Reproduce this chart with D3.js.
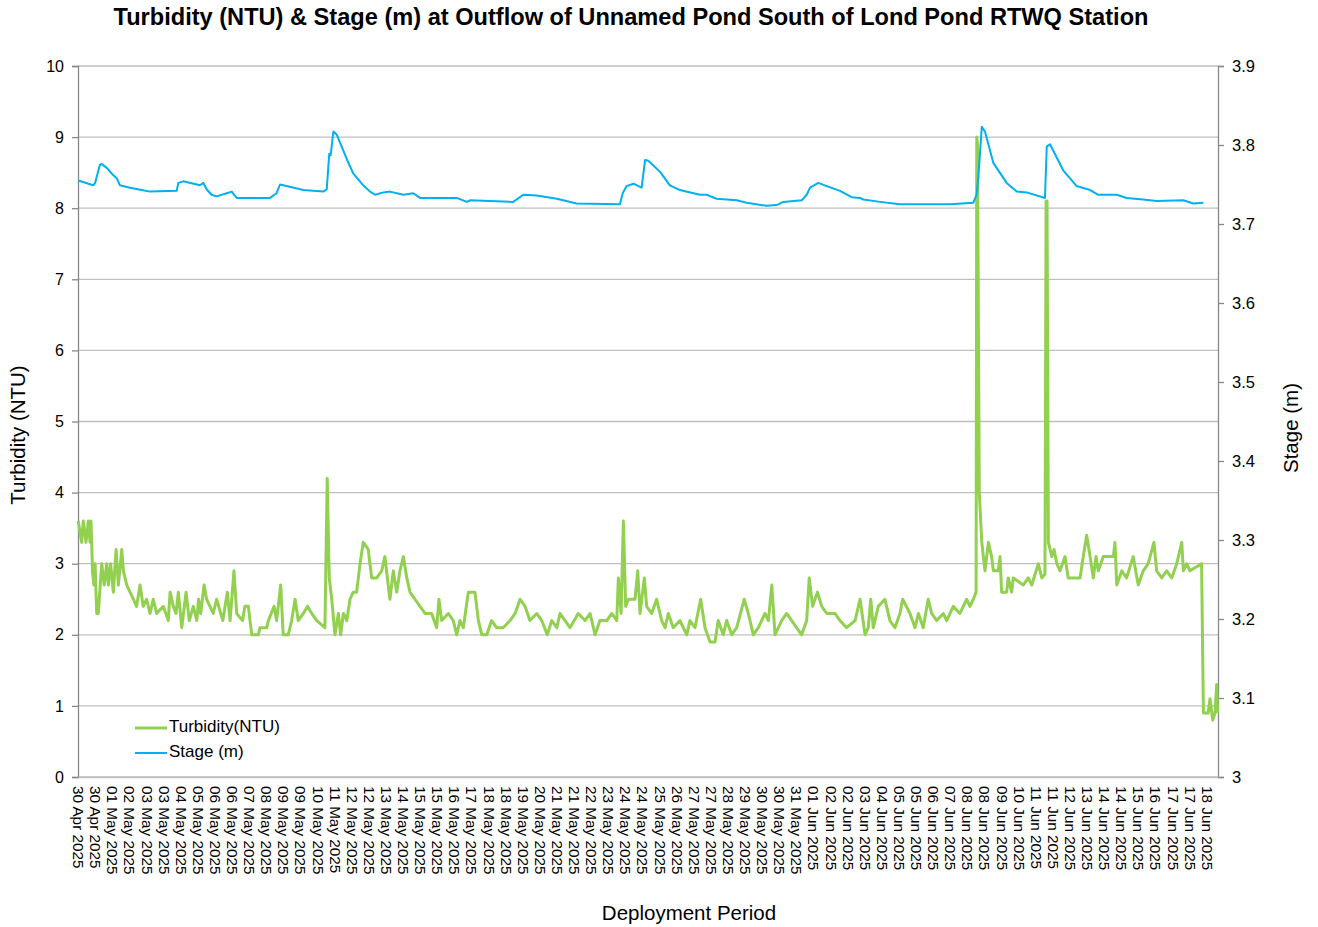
<!DOCTYPE html>
<html>
<head>
<meta charset="utf-8" />
<title>Turbidity & Stage - Unnamed Pond South of Lond Pond</title>
<script src="https://cdn.jsdelivr.net/npm/d3@7"></script>
<style>
  body { margin: 0; background: #fff; }
  text { font-family: Arial, "Liberation Sans", sans-serif; fill: #000; }
</style>
</head>
<body>
<svg id="chart" width="1318" height="927"></svg>
<script>
// deployment window (x axis runs from start to end)
const deployStart = new Date(2025, 3, 30);
const deployEnd = new Date(2025, 5, 19);

// category labels under the x axis, one every 18 hours
const xTickStepDays = 0.75;
const xTickLabels = [
  "30 Apr 2025","30 Apr 2025","01 May 2025","02 May 2025","03 May 2025","03 May 2025","04 May 2025","05 May 2025","06 May 2025","06 May 2025",
  "07 May 2025","08 May 2025","09 May 2025","09 May 2025","10 May 2025","11 May 2025","12 May 2025","12 May 2025","13 May 2025","14 May 2025",
  "15 May 2025","15 May 2025","16 May 2025","17 May 2025","18 May 2025","18 May 2025","19 May 2025","20 May 2025","21 May 2025","21 May 2025",
  "22 May 2025","23 May 2025","24 May 2025","24 May 2025","25 May 2025","26 May 2025","27 May 2025","27 May 2025","28 May 2025","29 May 2025",
  "30 May 2025","30 May 2025","31 May 2025","01 Jun 2025","02 Jun 2025","02 Jun 2025","03 Jun 2025","04 Jun 2025","05 Jun 2025","05 Jun 2025",
  "06 Jun 2025","07 Jun 2025","08 Jun 2025","08 Jun 2025","09 Jun 2025","10 Jun 2025","11 Jun 2025","11 Jun 2025","12 Jun 2025","13 Jun 2025",
  "14 Jun 2025","14 Jun 2025","15 Jun 2025","16 Jun 2025","17 Jun 2025","17 Jun 2025","18 Jun 2025"
];

const turbTicks = [0, 1, 2, 3, 4, 5, 6, 7, 8, 9, 10];
const stageTicks = [3, 3.1, 3.2, 3.3, 3.4, 3.5, 3.6, 3.7, 3.8, 3.9];

// Stage (m): days since deployment start, value
const stageDays = [
  0.01, 0.67, 0.75, 0.96, 1.04, 1.26, 1.54, 1.70, 1.84, 2.28,
  2.79, 3.16, 4.33, 4.40, 4.62, 5.35, 5.50, 5.64, 5.86, 6.08,
  6.52, 6.74, 6.96, 7.25, 8.42, 8.71, 8.86, 9.15, 9.88, 10.76,
  10.91, 11.02, 11.08, 11.20, 11.35, 11.79, 12.07, 12.51, 12.81, 13.03,
  13.39, 13.68, 14.27, 14.71, 15.00, 15.73, 16.61, 17.05, 17.19, 19.09,
  19.53, 20.12, 21.00, 21.87, 23.77, 23.89, 24.06, 24.36, 24.72, 24.87,
  25.01, 25.53, 25.96, 26.40, 27.28, 27.57, 28.01, 28.89, 29.33, 30.20,
  30.64, 30.93, 31.74, 31.96, 32.11, 32.47, 32.84, 33.42, 33.93, 34.30,
  34.44, 35.18, 36.05, 38.25, 39.27, 39.41, 39.49, 39.64, 39.78, 40.15,
  40.73, 41.17, 41.61, 42.41, 42.49, 42.63, 43.21, 43.80, 44.39, 44.75,
  45.56, 45.99, 46.72, 47.31, 48.48, 48.92, 49.36
];
const stageValues = [
  3.755, 3.749, 3.752, 3.775, 3.776, 3.771, 3.762, 3.758, 3.749, 3.746,
  3.743, 3.741, 3.742, 3.752, 3.754, 3.749, 3.752, 3.744, 3.737, 3.735,
  3.739, 3.741, 3.733, 3.733, 3.733, 3.739, 3.750, 3.748, 3.743, 3.741,
  3.744, 3.789, 3.787, 3.817, 3.813, 3.782, 3.764, 3.749, 3.741, 3.737,
  3.740, 3.741, 3.737, 3.739, 3.733, 3.733, 3.733, 3.728, 3.730, 3.728,
  3.737, 3.736, 3.732, 3.726, 3.725, 3.739, 3.748, 3.751, 3.746, 3.781,
  3.780, 3.766, 3.749, 3.743, 3.737, 3.737, 3.732, 3.730, 3.727, 3.723,
  3.724, 3.728, 3.730, 3.737, 3.746, 3.752, 3.748, 3.742, 3.734, 3.733,
  3.731, 3.728, 3.725, 3.725, 3.727, 3.737, 3.760, 3.823, 3.817, 3.777,
  3.752, 3.741, 3.740, 3.733, 3.798, 3.801, 3.768, 3.748, 3.743, 3.737,
  3.737, 3.733, 3.731, 3.729, 3.730, 3.726, 3.727
];

// Turbidity (NTU): days since deployment start, value
const turbDays = [
  0.01, 0.16, 0.23, 0.35, 0.45, 0.53, 0.57, 0.64, 0.70, 0.75,
  0.82, 0.89, 1.04, 1.15, 1.26, 1.33, 1.43, 1.55, 1.67, 1.77,
  1.92, 1.99, 2.14, 2.28, 2.43, 2.57, 2.72, 2.86, 3.01, 3.16,
  3.30, 3.45, 3.74, 3.96, 4.04, 4.18, 4.30, 4.40, 4.55, 4.74,
  4.88, 5.06, 5.21, 5.29, 5.38, 5.53, 5.64, 5.93, 6.08, 6.35,
  6.55, 6.67, 6.84, 6.96, 7.22, 7.32, 7.47, 7.62, 7.91, 7.98,
  8.28, 8.35, 8.60, 8.71, 8.89, 9.00, 9.22, 9.37, 9.52, 9.66,
  9.88, 10.07, 10.25, 10.47, 10.83, 10.93, 11.02, 11.13, 11.27, 11.42,
  11.52, 11.64, 11.79, 11.93, 12.07, 12.22, 12.37, 12.51, 12.73, 12.88,
  13.10, 13.32, 13.46, 13.68, 13.83, 13.98, 14.12, 14.27, 14.42, 14.56,
  14.78, 15.00, 15.22, 15.51, 15.73, 15.83, 15.95, 16.24, 16.46, 16.61,
  16.75, 16.90, 17.12, 17.41, 17.56, 17.71, 17.93, 18.14, 18.36, 18.65,
  18.95, 19.17, 19.39, 19.61, 19.82, 20.12, 20.34, 20.58, 20.78, 21.00,
  21.14, 21.36, 21.58, 21.94, 22.24, 22.46, 22.68, 22.89, 23.19, 23.41,
  23.63, 23.70, 23.82, 23.92, 24.02, 24.14, 24.43, 24.55, 24.65, 24.84,
  24.94, 25.16, 25.38, 25.60, 25.75, 25.89, 26.11, 26.40, 26.70, 26.84,
  27.06, 27.31, 27.50, 27.72, 27.94, 28.08, 28.30, 28.45, 28.67, 28.89,
  29.22, 29.40, 29.62, 29.84, 30.13, 30.28, 30.43, 30.57, 30.86, 31.08,
  31.30, 31.52, 31.74, 31.96, 32.07, 32.22, 32.43, 32.62, 32.84, 33.20,
  33.42, 33.71, 34.08, 34.30, 34.52, 34.66, 34.77, 34.88, 35.10, 35.39,
  35.61, 35.83, 36.05, 36.17, 36.49, 36.71, 36.86, 37.07, 37.29, 37.44,
  37.66, 37.95, 38.10, 38.39, 38.68, 38.98, 39.12, 39.27, 39.39, 39.42,
  39.45, 39.53, 39.64, 39.78, 39.93, 40.07, 40.15, 40.36, 40.44, 40.51,
  40.73, 40.80, 40.95, 41.02, 41.46, 41.68, 41.83, 42.12, 42.27, 42.41,
  42.46, 42.50, 42.56, 42.71, 42.81, 42.93, 43.07, 43.29, 43.43, 43.95,
  44.09, 44.24, 44.39, 44.53, 44.65, 44.75, 44.97, 45.41, 45.48, 45.56,
  45.78, 45.99, 46.28, 46.50, 46.72, 46.94, 47.19, 47.31, 47.53, 47.75,
  47.97, 48.19, 48.41, 48.48, 48.63, 48.77, 49.28, 49.36, 49.57, 49.65,
  49.77, 49.87, 49.94, 49.98
];
const turbValues = [
  3.6, 3.3, 3.6, 3.3, 3.6, 3.3, 3.6, 2.86, 2.7, 3.0,
  2.3, 2.3, 3.0, 2.7, 3.0, 2.7, 3.0, 2.6, 3.2, 2.7,
  3.2, 2.9, 2.7, 2.6, 2.5, 2.4, 2.7, 2.4, 2.5, 2.3,
  2.5, 2.3, 2.4, 2.2, 2.6, 2.4, 2.3, 2.6, 2.1, 2.6,
  2.2, 2.4, 2.2, 2.5, 2.3, 2.7, 2.5, 2.3, 2.5, 2.2,
  2.6, 2.2, 2.9, 2.3, 2.2, 2.4, 2.4, 2.0, 2.0, 2.1,
  2.1, 2.2, 2.4, 2.2, 2.7, 2.0, 2.0, 2.2, 2.5, 2.2,
  2.3, 2.4, 2.3, 2.2, 2.1, 4.2, 2.8, 2.5, 2.0, 2.3,
  2.0, 2.3, 2.2, 2.5, 2.6, 2.6, 3.0, 3.3, 3.2, 2.8,
  2.8, 2.9, 3.1, 2.5, 2.9, 2.6, 2.9, 3.1, 2.8, 2.6,
  2.5, 2.4, 2.3, 2.3, 2.1, 2.5, 2.2, 2.3, 2.2, 2.0,
  2.2, 2.1, 2.6, 2.6, 2.2, 2.0, 2.0, 2.2, 2.1, 2.1,
  2.2, 2.3, 2.5, 2.4, 2.2, 2.3, 2.2, 2.0, 2.2, 2.1,
  2.3, 2.2, 2.1, 2.3, 2.2, 2.3, 2.0, 2.2, 2.2, 2.3,
  2.2, 2.8, 2.3, 3.6, 2.4, 2.5, 2.5, 2.9, 2.3, 2.8,
  2.4, 2.3, 2.5, 2.2, 2.1, 2.3, 2.1, 2.2, 2.0, 2.2,
  2.1, 2.5, 2.1, 1.9, 1.9, 2.2, 2.0, 2.2, 2.0, 2.1,
  2.5, 2.3, 2.0, 2.1, 2.3, 2.2, 2.7, 2.0, 2.2, 2.3,
  2.2, 2.1, 2.0, 2.2, 2.8, 2.4, 2.6, 2.4, 2.3, 2.3,
  2.2, 2.1, 2.2, 2.5, 2.0, 2.1, 2.5, 2.1, 2.4, 2.5,
  2.2, 2.1, 2.3, 2.5, 2.3, 2.1, 2.3, 2.1, 2.5, 2.3,
  2.2, 2.3, 2.2, 2.4, 2.3, 2.5, 2.4, 2.5, 2.6, 9.0,
  8.9, 4.0, 3.3, 2.9, 3.3, 3.1, 2.9, 2.9, 3.1, 2.6,
  2.6, 2.8, 2.6, 2.8, 2.7, 2.8, 2.7, 3.0, 2.8, 2.85,
  8.1, 8.1, 3.3, 3.1, 3.2, 3.0, 2.9, 3.1, 2.8, 2.8,
  3.1, 3.4, 3.1, 2.8, 3.1, 2.9, 3.1, 3.1, 3.3, 2.7,
  2.9, 2.8, 3.1, 2.7, 2.9, 3.0, 3.3, 2.9, 2.8, 2.9,
  2.8, 3.0, 3.3, 2.9, 3.0, 2.9, 3.0, 0.9, 0.9, 1.1,
  0.8, 0.9, 1.3, 0.9
];

const W = 1318, H = 927;
const margin = { top: 66, right: 100, bottom: 150, left: 78 };
const plotW = W - margin.left - margin.right;
const plotH = H - margin.top - margin.bottom;

const dayToDate = d => new Date(deployStart.getTime() + d * 864e5);

const x = d3.scaleTime().domain([deployStart, deployEnd]).range([0, plotW]);
const yL = d3.scaleLinear().domain([0, 10]).range([plotH, 0]);
const yR = d3.scaleLinear().domain([3, 3.9]).range([plotH, 0]);

const svg = d3.select("#chart");
const g = svg.append("g").attr("transform", `translate(${margin.left},${margin.top})`);

// horizontal gridlines (primary axis)
g.append("g")
  .selectAll("line")
  .data(turbTicks)
  .join("line")
  .attr("x1", 0).attr("x2", plotW)
  .attr("y1", d => yL(d)).attr("y2", d => yL(d))
  .attr("stroke", "#bfbfbf").attr("stroke-width", 1.3);

// left axis
const axL = g.append("g").call(d3.axisLeft(yL).tickValues(turbTicks).tickSize(6).tickPadding(8).tickFormat(d3.format("d")));
axL.select(".domain").attr("stroke", "#888").attr("stroke-width", 1.3);
axL.selectAll(".tick line").attr("stroke", "#888").attr("stroke-width", 1.3);
axL.selectAll("text").style("font-size", "16px").attr("fill", "#000");

// right axis
const axR = g.append("g").attr("transform", `translate(${plotW},0)`)
  .call(d3.axisRight(yR).tickValues(stageTicks).tickSize(6).tickPadding(8).tickFormat(d3.format("~g")));
axR.select(".domain").attr("stroke", "#888").attr("stroke-width", 1.3);
axR.selectAll(".tick line").attr("stroke", "#888").attr("stroke-width", 1.3);
axR.selectAll("text").style("font-size", "16.5px").attr("fill", "#000");

// bottom axis with rotated category labels
const tickDates = xTickLabels.map((_, i) => dayToDate(i * xTickStepDays));
const axB = g.append("g").attr("transform", `translate(0,${plotH})`)
  .call(d3.axisBottom(x).tickValues(tickDates).tickSize(0).tickFormat((d, i) => xTickLabels[i]));
axB.select(".domain").attr("stroke", "#bfbfbf").attr("stroke-width", 1.3);
axB.selectAll("text")
  .attr("transform", "rotate(90)")
  .attr("x", 9).attr("y", 0).attr("dy", "0.35em")
  .style("text-anchor", "start")
  .style("font-size", "15.3px")
  .attr("fill", "#000");

// series
const turbLine = d3.line().x((d, i) => x(dayToDate(turbDays[i]))).y(d => yL(d));
const stageLine = d3.line().x((d, i) => x(dayToDate(stageDays[i]))).y(d => yR(d));

g.append("path").datum(turbValues)
  .attr("d", turbLine)
  .attr("fill", "none").attr("stroke", "#92d050").attr("stroke-width", 3)
  .attr("stroke-linejoin", "round");

g.append("path").datum(stageValues)
  .attr("d", stageLine)
  .attr("fill", "none").attr("stroke", "#00b0f0").attr("stroke-width", 2)
  .attr("stroke-linejoin", "round");

// titles
svg.append("text")
  .attr("x", 631).attr("y", 19)
  .attr("text-anchor", "middle").attr("dominant-baseline", "middle")
  .style("font-size", "23.6px").style("font-weight", "bold")
  .text("Turbidity (NTU) & Stage (m) at Outflow of Unnamed Pond South of Lond Pond RTWQ Station");

svg.append("text")
  .attr("transform", "translate(20,435) rotate(-90)")
  .attr("text-anchor", "middle").attr("dominant-baseline", "middle")
  .style("font-size", "20.5px")
  .text("Turbidity (NTU)");

svg.append("text")
  .attr("transform", "translate(1293,428) rotate(-90)")
  .attr("text-anchor", "middle").attr("dominant-baseline", "middle")
  .style("font-size", "20.5px")
  .text("Stage (m)");

svg.append("text")
  .attr("x", 689).attr("y", 915)
  .attr("text-anchor", "middle").attr("dominant-baseline", "middle")
  .style("font-size", "20.5px")
  .text("Deployment Period");

// legend
const legend = svg.append("g").attr("transform", "translate(135,728)");
const legendItems = [
  { label: "Turbidity(NTU)", color: "#92d050", width: 3 },
  { label: "Stage (m)", color: "#00b0f0", width: 2 }
];
legendItems.forEach((it, i) => {
  const row = legend.append("g").attr("transform", `translate(0,${i * 25})`);
  row.append("line").attr("x1", 0).attr("x2", 32).attr("y1", 0).attr("y2", 0)
    .attr("stroke", it.color).attr("stroke-width", it.width);
  row.append("text").attr("x", 34).attr("y", 0).attr("dominant-baseline", "middle")
    .style("font-size", "17px").text(it.label);
});
</script>
</body>
</html>
